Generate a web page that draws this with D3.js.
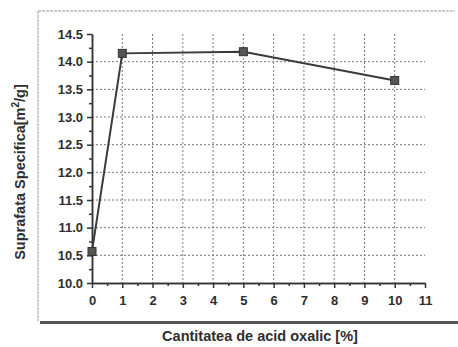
<!DOCTYPE html>
<html>
<head>
<meta charset="utf-8">
<script src="https://cdn.jsdelivr.net/npm/d3@7"></script>
<style>
  body { margin: 0; background: #fff; }
  svg text { font-family: "Liberation Sans", Arial, sans-serif; fill: #2e2e2e; font-weight: bold; }
</style>
</head>
<body>
<svg id="chart" width="458" height="347"></svg>
<script>
// data
var acid = [0, 1, 5, 10];
var surface = [10.57, 14.15, 14.18, 13.66];
var xTicks = [0, 1, 2, 3, 4, 5, 6, 7, 8, 9, 10, 11];
var yTicks = [10.0, 10.5, 11.0, 11.5, 12.0, 12.5, 13.0, 13.5, 14.0, 14.5];

var svg = d3.select('#chart');

var x = d3.scaleLinear().domain([0, 11]).range([92, 425]);
var y = d3.scaleLinear().domain([10, 14.5]).range([283, 34]);

// outer frame (scanned page look)
svg.append('line')
	.attr('x1', 38).attr('y1', 11).attr('x2', 455).attr('y2', 11)
	.style('stroke', '#999').style('stroke-width', 1).style('stroke-dasharray', '3,1');
svg.append('line')
	.attr('x1', 38).attr('y1', 11).attr('x2', 38).attr('y2', 321)
	.style('stroke', '#999').style('stroke-width', 1).style('stroke-dasharray', '3,1');
svg.append('line')
	.attr('x1', 40).attr('y1', 322.5).attr('x2', 458).attr('y2', 322.5)
	.style('stroke', '#555').style('stroke-width', 3);

// grid
var grid = svg.append('g').classed('grid', true);

grid.selectAll('line.v')
	.data(xTicks.filter(function (d) { return d > 0 && d < 11; }))
	.enter().append('line')
	.attr('x1', function (d) { return x(d); })
	.attr('x2', function (d) { return x(d); })
	.attr('y1', y(14.5))
	.attr('y2', y(10))
	.style('stroke', '#777').style('stroke-width', 1).style('stroke-dasharray', '2,2');

grid.selectAll('line.h')
	.data(yTicks.filter(function (d) { return d > 10 && d < 14.5; }))
	.enter().append('line')
	.attr('x1', x(0))
	.attr('x2', x(11))
	.attr('y1', function (d) { return y(d); })
	.attr('y2', function (d) { return y(d); })
	.style('stroke', '#777').style('stroke-width', 1).style('stroke-dasharray', '2,2');

// axes
var xMinor = d3.range(0.5, 11, 1);
var yMinor = d3.range(10.25, 14.5, 0.5);

var xAxis = svg.append('g')
	.attr('transform', 'translate(0,' + y(10) + ')')
	.call(d3.axisBottom(x).tickValues(xTicks).tickFormat(d3.format('d')).tickSize(5).tickSizeOuter(0));

svg.append('g')
	.attr('transform', 'translate(0,' + y(10) + ')')
	.call(d3.axisBottom(x).tickValues(xMinor).tickFormat('').tickSize(3).tickSizeOuter(0));

var yAxis = svg.append('g')
	.attr('transform', 'translate(' + x(0) + ',0)')
	.call(d3.axisLeft(y).tickValues(yTicks).tickFormat(d3.format('.1f')).tickSize(5).tickSizeOuter(0));

svg.append('g')
	.attr('transform', 'translate(' + x(0) + ',0)')
	.call(d3.axisLeft(y).tickValues(yMinor).tickFormat('').tickSize(3).tickSizeOuter(0));

svg.selectAll('.domain, .tick line')
	.style('stroke', '#333').style('stroke-width', 1.5);

xAxis.selectAll('text').style('font-size', '13px').attr('dy', '1.1em');
yAxis.selectAll('text').style('font-size', '13px').attr('x', -9);
svg.selectAll('.tick text').style('fill', '#2e2e2e').style('font-family', '"Liberation Sans", Arial, sans-serif');

// series
var pts = acid.map(function (d, i) { return [d, surface[i]]; });

svg.append('path')
	.datum(pts)
	.attr('d', d3.line()
		.x(function (d) { return x(d[0]); })
		.y(function (d) { return y(d[1]); }))
	.style('fill', 'none')
	.style('stroke', '#3a3a3a')
	.style('stroke-width', 2);

svg.selectAll('rect.marker')
	.data(pts)
	.enter().append('rect')
	.classed('marker', true)
	.attr('x', function (d) { return x(d[0]) - 4; })
	.attr('y', function (d) { return y(d[1]) - 4; })
	.attr('width', 8)
	.attr('height', 8)
	.style('fill', '#555')
	.style('stroke', '#333')
	.style('stroke-width', 1);

// axis titles
svg.append('text')
	.attr('x', 260)
	.attr('y', 341)
	.attr('text-anchor', 'middle')
	.style('font-size', '14.5px')
	.text('Cantitatea de acid oxalic [%]');

var yTitle = svg.append('text')
	.attr('transform', 'translate(25,172) rotate(-90)')
	.attr('text-anchor', 'middle')
	.style('font-size', '14.5px');
yTitle.append('tspan').text('Suprafata Specifica[m');
yTitle.append('tspan').attr('dy', -6).style('font-size', '10px').text('2');
yTitle.append('tspan').attr('dy', 6).text('/g]');
</script>
</body>
</html>
